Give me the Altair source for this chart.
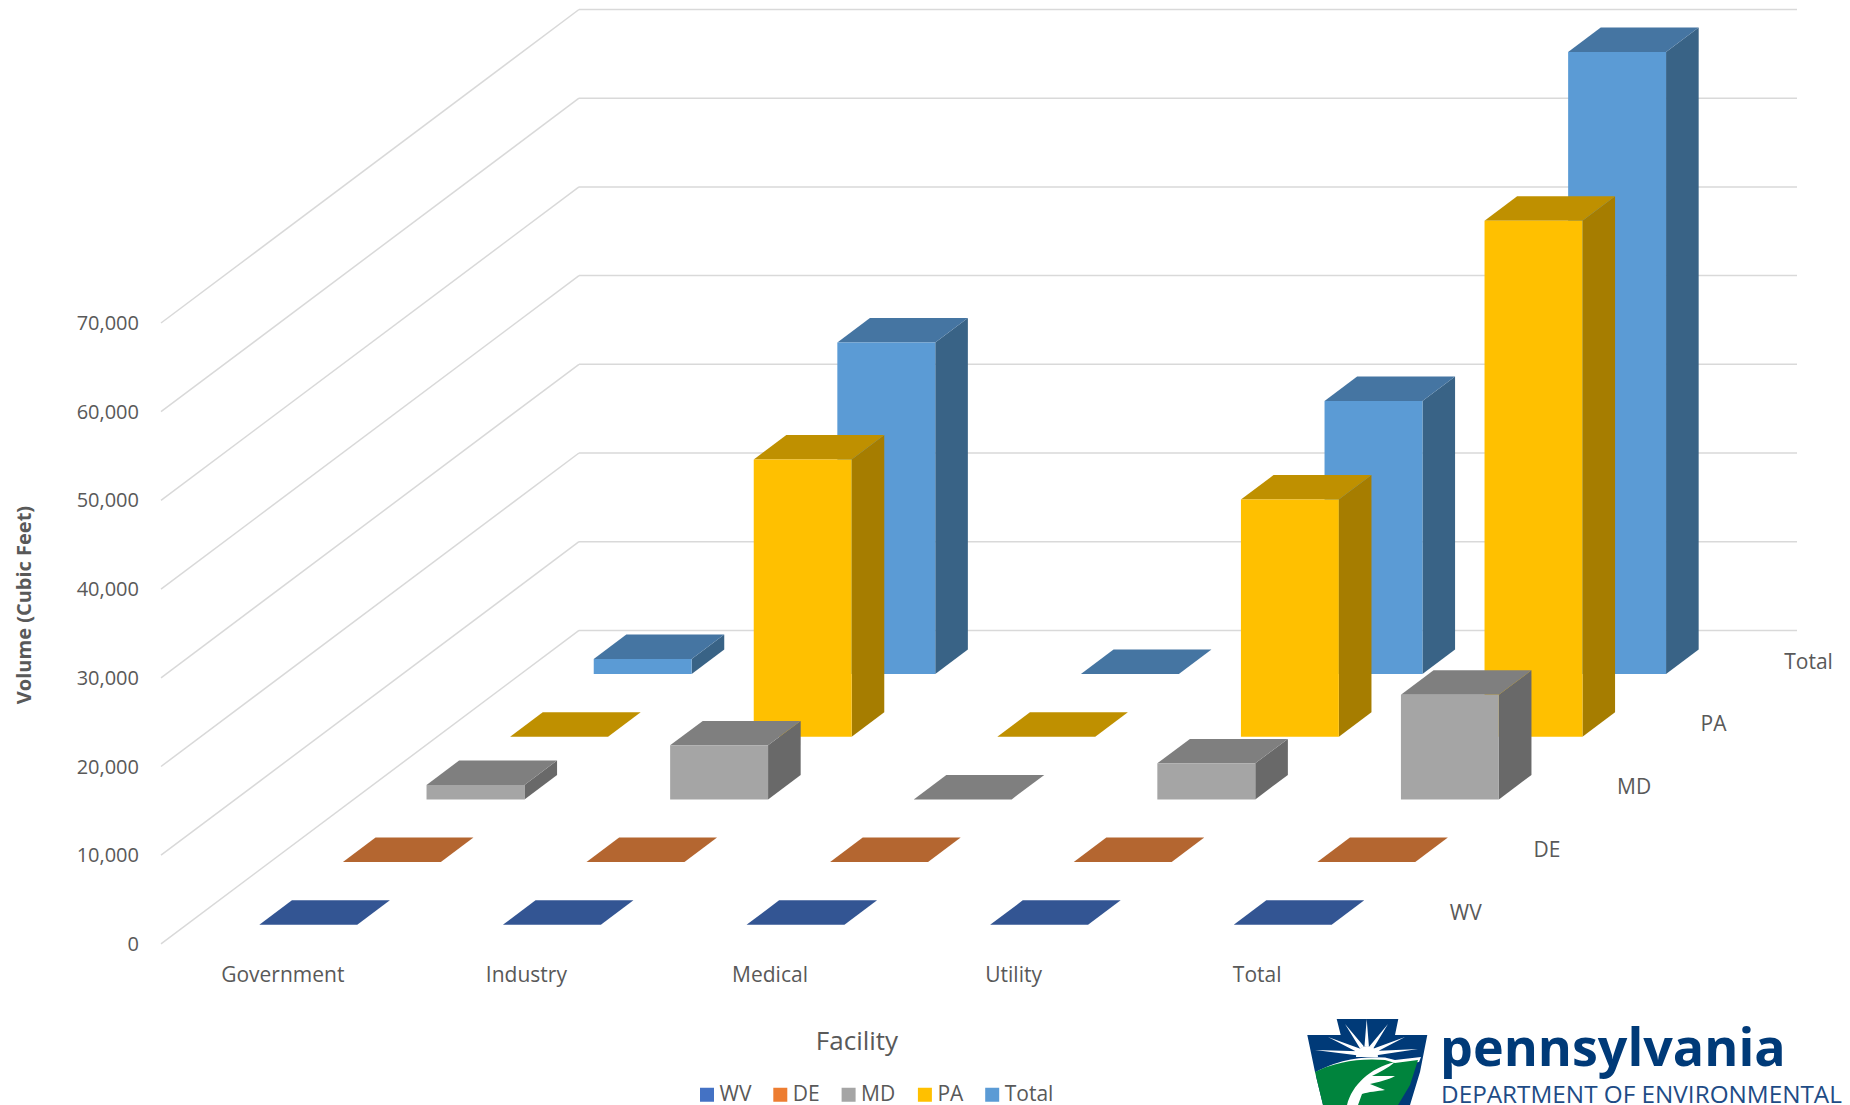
import math
import altair as alt
import pandas as pd

# ---------- data ----------
facilities = ["Government", "Industry", "Medical", "Utility", "Total"]
series = ["WV", "DE", "MD", "PA", "Total"]
wv_values = [0, 0, 0, 0, 0]
de_values = [0, 0, 0, 0, 0]
md_values = [1630, 6090, 0, 4060, 11790]
pa_values = [0, 31250, 0, 26740, 58170]
total_values = [1690, 37370, 0, 30780, 70120]
y_ticks = [0, 10000, 20000, 30000, 40000, 50000, 60000, 70000]

values_by_series = [wv_values, de_values, md_values, pa_values, total_values]
front_colors = ["#4472C4", "#ED7D31", "#A5A5A5", "#FFC000", "#5B9BD5"]
top_colors = ["#335593", "#B46630", "#7F7F7F", "#BF9000", "#4575A2"]
side_colors = ["#2E4E86", "#A05A28", "#696969", "#A67D00", "#396386"]

FONT = "Open Sans"
TEXT = "#595959"
GRID = "#D9D9D9"
NAVY = "#003A78"

# ---------- oblique 3D projection ----------
OX, OY = 161.0, 943.9
COL_W, DEPTH_X, DEPTH_Y = 243.6, 83.6, 62.7
V_SCALE = 0.00887
BAR_L, BAR_R = 0.299, 0.701
BAR_F, BAR_B = 0.305, 0.695
TEXT_NUDGE = 1.0


def px(c, d):
    return OX + COL_W * c + DEPTH_X * d


def py(v, d):
    return OY - DEPTH_Y * d - V_SCALE * v


xs = alt.Scale(domain=[8, 1842], range=[0, 1834], nice=False, zero=False)
ys = alt.Scale(domain=[8, 1105], range=[0, 1097], nice=False, zero=False)
X = alt.X("x:Q", scale=xs, axis=None)
Y = alt.Y("y:Q", scale=ys, axis=None)
X2 = alt.X2("x2:Q")
Y2 = alt.Y2("y2:Q")

layers = []

# ---------- walls ----------
n_s = len(series)
n_c = len(facilities)
grid_rows = []
for v in y_ticks:
    grid_rows.append(dict(x=px(0, 0), y=py(v, 0), x2=px(0, n_s), y2=py(v, n_s)))
    grid_rows.append(dict(x=px(0, n_s), y=py(v, n_s), x2=px(n_c, n_s), y2=py(v, n_s)))
layers.append(
    alt.Chart(pd.DataFrame(grid_rows))
    .mark_rule(color=GRID, strokeWidth=1.5)
    .encode(x=X, y=Y, x2=X2, y2=Y2)
)

# ---------- bars, back to front ----------
for s in reversed(range(n_s)):
    front, top, side = [], [], []
    for c, v in enumerate(values_by_series[s]):
        xl, xr = px(c + BAR_L, s + BAR_F), px(c + BAR_R, s + BAR_F)
        front.append(dict(series=series[s], x=xl, x2=xr, y=py(v, s + BAR_F), y2=py(0, s + BAR_F)))
        for d in (BAR_F, BAR_B):
            top.append(dict(id=c, x=px(c + BAR_L, s + d), x2=px(c + BAR_R, s + d), y=py(v, s + d)))
            if v > 0:
                side.append(dict(id=c, x=px(c + BAR_R, s + d), y=py(v, s + d), y2=py(0, s + d)))
    if side:
        layers.append(
            alt.Chart(pd.DataFrame(side))
            .mark_area(color=side_colors[s])
            .encode(x=X, y=Y, y2=Y2, detail="id:N")
        )
    layers.append(
        alt.Chart(pd.DataFrame(top))
        .mark_area(color=top_colors[s], orient="horizontal")
        .encode(x=X, x2=X2, y=Y, detail="id:N")
    )
    layers.append(
        alt.Chart(pd.DataFrame(front))
        .mark_rect(strokeWidth=0)
        .encode(
            x=X,
            x2=X2,
            y=Y,
            y2=Y2,
            color=alt.Color(
                "series:N",
                scale=alt.Scale(domain=series, range=front_colors),
                legend=alt.Legend(
                    orient="none",
                    legendX=688.5,
                    legendY=1076,
                    direction="horizontal",
                    columns=5,
                    title=None,
                    symbolType="square",
                    symbolSize=196,
                    symbolStrokeWidth=0,
                    labelFont=FONT,
                    labelFontSize=21,
                    labelColor=TEXT,
                    labelOffset=2,
                    columnPadding=18.3,
                ),
            ),
        )
    )


# ---------- texts ----------
def text_layer(rows, **kw):
    base = dict(font=FONT, color=TEXT, baseline="middle")
    base.update(kw)
    return (
        alt.Chart(pd.DataFrame(rows))
        .mark_text(**base)
        .encode(x=X, y=Y, text="t:N")
    )


layers.append(
    text_layer(
        [dict(x=139, y=py(v, 0) + TEXT_NUDGE, t=f"{v:,}") for v in y_ticks], fontSize=20, align="right"
    )
)
layers.append(
    text_layer(
        [dict(x=px(c + 0.5, 0), y=py(0, 0) + 31 + TEXT_NUDGE, t=f) for c, f in enumerate(facilities)],
        fontSize=21,
        align="center",
    )
)
layers.append(
    text_layer(
        [dict(x=px(n_c, s + 0.5) + 29, y=py(0, s + 0.5) + TEXT_NUDGE, t=n) for s, n in enumerate(series)],
        fontSize=21,
        align="left",
    )
)
layers.append(
    text_layer([dict(x=857, y=1042, t="Facility")], fontSize=26, align="center")
)
layers.append(
    text_layer(
        [dict(x=25, y=605, t="Volume (Cubic Feet)")],
        fontSize=20,
        fontWeight="bold",
        align="center",
        angle=270,
    )
)

# ---------- logo ----------
KEYSTONE = "M36.7,9L98.3,9L95,25L127.3,25L120,62L110,95L23,95L15,62L7.3,25L40.7,25Z"
HILL = "M15,62Q45,47 85,50L95,53L118,50L110,75L98,95L23,95Z"
FEATHER = "M47,95C52,75 70,58 95,52C88,58 80,62 72,66L95,66C88,70 78,72 70,74L85,80C78,81 68,82 62,84L58,95Z"
cx, cy = 66.7, 44.0
ray_tips = [(66.7, 9), (45, 14), (88, 14), (28, 27), (105, 27), (15, 40), (118, 39)]
rays = ""
for tx, ty in ray_tips:
    dx, dy = tx - cx, ty - cy
    n = math.hypot(dx, dy)
    ux, uy = dx / n, dy / n
    bx, by = cx + ux * 8, cy + uy * 8
    rays += f"M{tx},{ty}L{bx - uy * 2.2:.1f},{by + ux * 2.2:.1f}L{bx + uy * 2.2:.1f},{by - ux * 2.2:.1f}Z"
SUN = "M56,47A10.7,10.7 0 0 1 78,47Z"
HILL_EDGE = "M13,63.5Q45,45 85,47.5L95,50L121,47L119,52L95,55L85,52.5Q45,50 15,66Z"
logo_anchor = pd.DataFrame([dict(x=1300, y=1010)])
for path, fill in [
    (KEYSTONE, NAVY),
    (rays, "#FFFFFF"),
    (SUN, "#FFFFFF"),
    (HILL_EDGE, "#FFFFFF"),
    (HILL, "#00843D"),
    (FEATHER, "#FFFFFF"),
]:
    layers.append(
        alt.Chart(logo_anchor)
        .mark_point(shape=path, size=4, filled=True, fill=fill, opacity=1, strokeWidth=0)
        .encode(x=X, y=Y)
    )
layers.append(
    text_layer(
        [dict(x=1440, y=1050, t="pennsylvania")],
        fontSize=52,
        fontWeight="bold",
        color=NAVY,
        align="left",
    )
)
layers.append(
    text_layer(
        [dict(x=1441, y=1096, t="DEPARTMENT OF ENVIRONMENTAL")],
        fontSize=24.3,
        color="#1E4C86",
        align="left",
    )
)

chart = (
    alt.layer(*layers)
    .properties(width=1834, height=1097, padding=0, autosize=alt.AutoSizeParams(type="none"), background="white")
    .configure_view(strokeWidth=0)
)
chart.save("out.html", embed_options={"renderer": "svg", "actions": False})
